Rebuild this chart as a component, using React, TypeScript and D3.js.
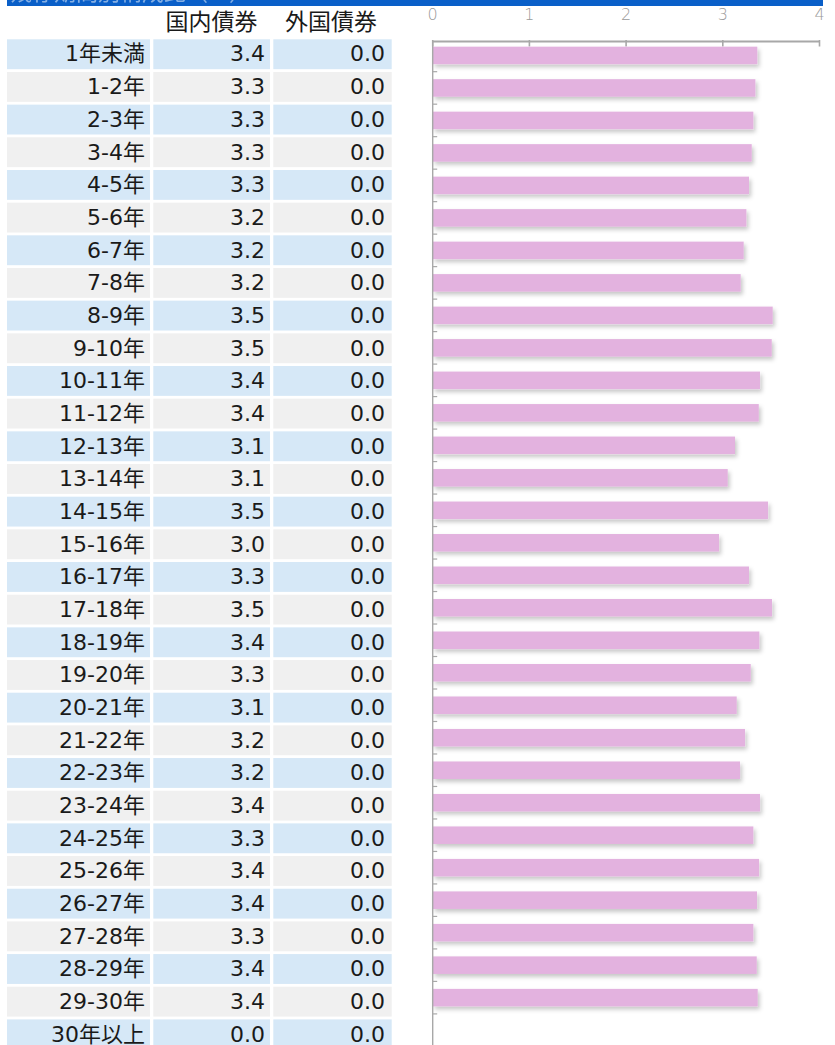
import React from "react";
import * as d3 from "d3";

const categories = [
  "1年未満", "1-2年", "2-3年", "3-4年", "4-5年", "5-6年", "6-7年", "7-8年",
  "8-9年", "9-10年", "10-11年", "11-12年", "12-13年", "13-14年", "14-15年",
  "15-16年", "16-17年", "17-18年", "18-19年", "19-20年", "20-21年", "21-22年",
  "22-23年", "23-24年", "24-25年", "25-26年", "26-27年", "27-28年", "28-29年",
  "29-30年", "30年以上",
];

const domesticValues = [
  3.357, 3.337, 3.316, 3.299, 3.271, 3.244, 3.216, 3.185, 3.516, 3.506,
  3.385, 3.372, 3.126, 3.051, 3.468, 2.961, 3.271, 3.509, 3.378, 3.289,
  3.144, 3.23, 3.178, 3.385, 3.316, 3.375, 3.354, 3.316, 3.351, 3.361, 0,
];

const foreignValues = [
  0, 0, 0, 0, 0, 0, 0, 0, 0, 0, 0, 0, 0, 0, 0, 0, 0, 0, 0, 0, 0, 0, 0, 0, 0,
  0, 0, 0, 0, 0, 0,
];

const columnHeaders = ["国内債券", "外国債券"];
const xTicks = [0, 1, 2, 3, 4];
const titleText = "残存期間別構成比（%）";

const FONT = "'DejaVu Sans', 'Noto Sans CJK JP', sans-serif";

export default function App() {
  const W = 835;
  const H = 1045;

  const x = d3.scaleLinear().domain([0, 4]).range([432.7, 819.5]);
  const yBar = d3
    .scaleBand<string>()
    .domain(categories)
    .range([39.2, 39.2 + 31 * 32.49])
    .paddingInner(0.46)
    .paddingOuter(0.23);
  const yAxisBand = d3
    .scaleBand<string>()
    .domain(categories)
    .range([39.2, 39.2 + 31 * 32.49]);
  const yRow = d3
    .scaleBand<string>()
    .domain(categories)
    .range([39.3, 39.3 + 31 * 32.67]);

  const rowH = yRow.bandwidth() - 2.8;
  const fmt = d3.format(".1f");

  return (
    <svg
      width={W}
      height={H}
      style={{ position: "absolute", left: 0, top: 0, background: "#fff" }}
      fontFamily={FONT}
    >
      <defs>
        <filter id="shadow" x="-5%" y="-40%" width="115%" height="200%">
          <feDropShadow dx="2" dy="3" stdDeviation="2" floodColor="#000" floodOpacity="0.22" />
        </filter>
      </defs>

      {/* title band */}
      <rect x={7} y={0} width={816} height={6} fill="#0A5FC8" />
      <text x={10} y={0} fontSize={22} fill="#ffffff" opacity={0.5}>
        {titleText}
      </text>

      {/* headers */}
      <text x={211.5} y={22} fontSize={23} textAnchor="middle" dominantBaseline="central" fill="#1a1a1a">
        {columnHeaders[0]}
      </text>
      <text x={331} y={22} fontSize={23} textAnchor="middle" dominantBaseline="central" fill="#1a1a1a">
        {columnHeaders[1]}
      </text>

      {/* table rows */}
      {categories.map((c, i) => {
        const y0 = yRow(c)!;
        const fill = i % 2 === 0 ? "#D6E8F7" : "#F0F0F0";
        const cy = y0 + rowH / 2;
        return (
          <g key={c}>
            <rect x={7} y={y0} width={143} height={rowH} fill={fill} />
            <rect x={153.3} y={y0} width={116.7} height={rowH} fill={fill} />
            <rect x={273.3} y={y0} width={118.4} height={rowH} fill={fill} />
            <text x={145} y={cy} dy="0.33em" fontSize={22} textAnchor="end" fill="#1a1a1a">
              {c}
            </text>
            <text x={265} y={cy} dy="0.33em" fontSize={22} textAnchor="end" fill="#1a1a1a">
              {fmt(domesticValues[i])}
            </text>
            <text x={385} y={cy} dy="0.33em" fontSize={22} textAnchor="end" fill="#1a1a1a">
              {fmt(foreignValues[i])}
            </text>
          </g>
        );
      })}

      {/* x axis */}
      {xTicks.map((t) => (
        <g key={t}>
          <text
            x={x(t)}
            y={14}
            dy="0.35em"
            fontSize={16}
            fontWeight={200}
            textAnchor="middle"
            fill="#9a9a9a"
          >
            {t}
          </text>
          <line x1={x(t)} x2={x(t)} y1={40} y2={46.5} stroke="#a8a8a8" strokeWidth={1.6} />
        </g>
      ))}
      <line x1={x(0)} x2={x(4)} y1={41.5} y2={41.5} stroke="#a8a8a8" strokeWidth={2} />

      {/* bars */}
      {categories.map((c, i) =>
        domesticValues[i] > 0 ? (
          <rect
            key={c}
            x={x(0)}
            y={yBar(c)!}
            width={x(domesticValues[i]) - x(0)}
            height={yBar.bandwidth()}
            fill="#E3B2DF"
            filter="url(#shadow)"
          />
        ) : null
      )}

      {/* y axis */}
      <line x1={x(0)} x2={x(0)} y1={41.5} y2={H} stroke="#a8a8a8" strokeWidth={1.4} />
      {categories.slice(0, categories.length - 1).map((c) => {
        const yb = yAxisBand(c)! + yAxisBand.bandwidth();
        return (
          <line key={c} x1={x(0)} x2={x(0) + 4.5} y1={yb} y2={yb} stroke="#a8a8a8" strokeWidth={1.2} />
        );
      })}
    </svg>
  );
}
